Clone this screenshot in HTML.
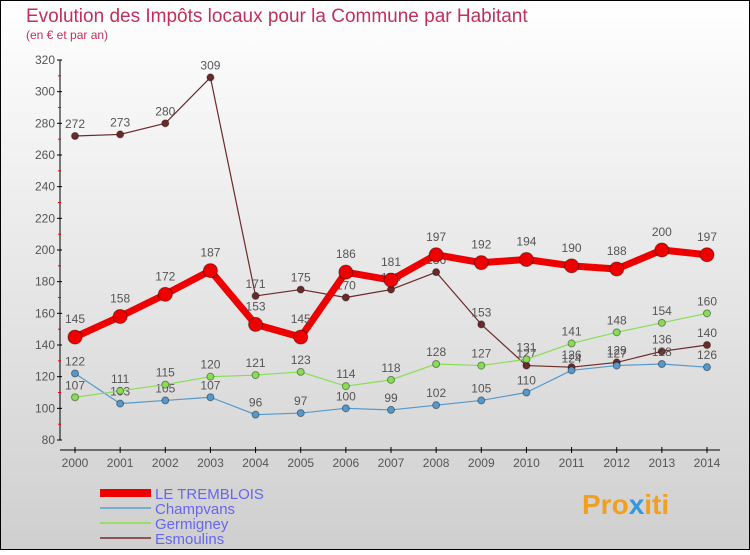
<!DOCTYPE html>
<html><head><meta charset="utf-8"><style>
body{margin:0}
#c{width:750px;height:550px;position:relative;font-family:"Liberation Sans",sans-serif}
</style></head><body>
<div id="c">
<svg id="s" width="750" height="550" xmlns="http://www.w3.org/2000/svg" font-family="Liberation Sans, sans-serif">
<defs><linearGradient id="bg" x1="0" y1="0" x2="0" y2="1"><stop offset="0" stop-color="#ffffff"/><stop offset="1" stop-color="#cfcfcf"/></linearGradient></defs>
<rect x="0.5" y="0.5" width="749" height="549" fill="url(#bg)" stroke="#000"/>
<text x="26" y="22" font-size="19" fill="#c0305a">Evolution des Impôts locaux pour la Commune par Habitant</text>
<text x="26" y="39" font-size="12" fill="#c0305a">(en € et par an)</text>
<g id="axes"></g><g id="series"></g>
<g>
<rect x="100" y="489" width="51" height="8" fill="#e00"/>
<line x1="100" y1="508" x2="151" y2="508" stroke="#7aaed0" stroke-width="2"/>
<line x1="100" y1="523" x2="151" y2="523" stroke="#99dd66" stroke-width="2"/>
<line x1="100" y1="538" x2="151" y2="538" stroke="#8b5555" stroke-width="2"/>
<text x="155" y="499" font-size="15" fill="#6666ee">LE TREMBLOIS</text>
<text x="155" y="514" font-size="15" fill="#6666ee">Champvans</text>
<text x="155" y="529" font-size="15" fill="#6666ee">Germigney</text>
<text x="155" y="544" font-size="15" fill="#6666ee">Esmoulins</text>
</g>
<text x="582" y="514" font-size="28" font-weight="bold" fill="#f0a020">Pro<tspan fill="#3399dd">x</tspan>iti</text>
</svg>
</div>
<script>
const years=[2000,2001,2002,2003,2004,2005,2006,2007,2008,2009,2010,2011,2012,2013,2014];
const yTicks=[80,100,120,140,160,180,200,220,240,260,280,300,320];
const tremblois=[145,158,172,187,153,145,186,181,197,192,194,190,188,200,197];
const champvans=[122,103,105,107,96,97,100,99,102,105,110,124,127,128,126];
const germigney=[107,111,115,120,121,123,114,118,128,127,131,141,148,154,160];
const esmoulins=[272,273,280,309,171,175,170,175,186,153,127,126,129,136,140];
const NS="http://www.w3.org/2000/svg";
const X=i=>75+i*(632/14);
const Y=v=>440-(v-80)*(380/240);
function mk(t,a,p){const e=document.createElementNS(NS,t);for(const k in a)e.setAttribute(k,a[k]);p.appendChild(e);return e;}
const ax=document.getElementById('axes');
let l=mk('line',{x1:60,y1:60,x2:60,y2:440,stroke:'#000'},ax);


yTicks.forEach((v,i)=>{
  mk('line',{x1:57,y1:Y(v),x2:62,y2:Y(v),stroke:'#000'},ax);
  if(i<yTicks.length-1){mk('line',{x1:58,y1:Y(v+10),x2:61,y2:Y(v+10),stroke:'#e00'},ax);}
  const t=mk('text',{x:55,y:Y(v)+4,'font-size':12,'text-anchor':'end',fill:'#555'},ax);t.textContent=v;
  
  
});
l=mk('line',{x1:60,y1:450,x2:720,y2:450,stroke:'#000'},ax);


years.forEach((y,i)=>{
  mk('line',{x1:X(i),y1:447,x2:X(i),y2:453,stroke:'#000'},ax);
  const t=mk('text',{x:X(i),y:467,'font-size':12,'text-anchor':'middle',fill:'#555'},ax);t.textContent=y;
  
  
});
const sg=document.getElementById('series');
function series(name,data,color,w,r,labelOff){
  const g=mk('g',{},sg);
  
  
  const p=mk('polyline',{points:data.map((v,i)=>X(i)+','+Y(v)).join(' '),fill:'none',stroke:color,'stroke-width':w,'stroke-linejoin':'round'},g);
  
  
  data.forEach((v,i)=>{
    const c=mk('circle',{cx:X(i),cy:Y(v),r:r,fill:color,stroke:'rgba(0,0,0,0.4)','stroke-width':1},g);
    
    
    const t=mk('text',{x:X(i),y:Y(v)+labelOff,'font-size':12,'text-anchor':'middle',fill:'#555'},g);t.textContent=v;
    
    
  });
}
series('esmoulins',esmoulins,'#6b2a2a',1.2,3.5,-8);
series('champvans',champvans,'#5599cc',1.2,3.5,-8);
series('germigney',germigney,'#88dd55',1.2,3.5,-8);
series('tremblois',tremblois,'#ee0000',7,7,-14);
</script>
</body></html>
